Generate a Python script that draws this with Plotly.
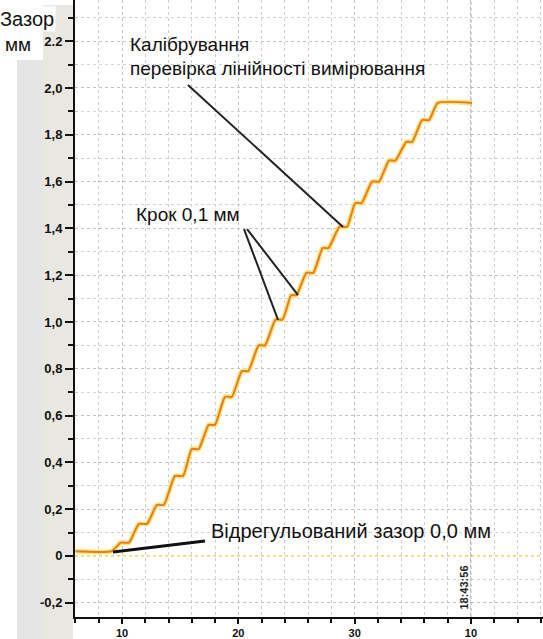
import plotly.graph_objects as go

# ---- data ----
# staircase: start/end x of each flat part and its level (mm)
flat_x0 = [6.0, 9.9, 11.45, 13.0, 14.55, 16.0, 17.45, 18.85, 20.3, 21.75, 23.2,
           24.55, 25.85, 27.25, 28.7, 30.05, 31.5, 32.95, 34.45, 35.8, 37.15]
flat_x1 = [9.1, 10.6, 12.15, 13.6, 15.25, 16.6, 18.0, 19.45, 20.85, 22.3, 23.8,
           25.0, 26.45, 27.75, 29.35, 30.6, 32.1, 33.5, 34.95, 36.4, 40.09]
levels = [0.02, 0.057, 0.137, 0.218, 0.342, 0.457, 0.56, 0.68, 0.79, 0.90, 1.01,
          1.115, 1.21, 1.316, 1.407, 1.508, 1.60, 1.69, 1.77, 1.863, 1.936]

x_tickvals = [10, 20, 30, 40]
x_ticktext = ["10", "20", "30", "10"]
y_tickvals = [-0.2, 0, 0.2, 0.4, 0.6, 0.8, 1.0, 1.2, 1.4, 1.6, 1.8, 2.0, 2.2]
y_ticktext = ["-0,2", "0", "0,2", "0,4", "0,6", "0,8", "1,0", "1,2", "1,4", "1,6", "1,8", "2,0", "2.2"]

# annotation pointer lines (data coords): x0, y0, x1, y1
ptr_calib = [15.67, 2.013, 29.0, 1.406]
ptr_step_a = [20.49, 1.397, 23.41, 1.009]
ptr_step_b = [20.75, 1.397, 25.13, 1.115]
ptr_zero = [9.23, 0.017, 17.13, 0.064]

x_range = [5.96, 46.19]
y_range = [-0.261, 2.376]

# ---- build staircase path ----
xs, ys = [], []
for a, b, lv in zip(flat_x0, flat_x1, levels):
    xs += [a, b]
    ys += [lv, lv]

fig = go.Figure()
fig.add_trace(go.Scatter(x=[x_range[0], x_range[1]], y=[0, 0], mode="lines",
                         line=dict(color="#efe070", width=1.5, dash="dot"),
                         hoverinfo="skip", showlegend=False))
fig.add_trace(go.Scatter(x=xs, y=ys, mode="lines",
                         line=dict(color="#ffe27a", width=5, shape="spline", smoothing=0.5),
                         hoverinfo="skip", showlegend=False))
fig.add_trace(go.Scatter(x=xs, y=ys, mode="lines",
                         line=dict(color="#df7f26", width=2, shape="spline", smoothing=0.5),
                         showlegend=False))

shapes = []
# left gray panel
shapes.append(dict(type="rect", xref="paper", yref="paper",
                   x0=(17 - 75) / 468, x1=(73 - 75) / 468, y0=-22 / 617, y1=1 - 60 / 617,
                   fillcolor="#e5e5e5", line=dict(width=0), layer="below"))
shapes.append(dict(type="rect", xref="paper", yref="paper",
                   x0=(43 - 75) / 468, x1=(73 - 75) / 468, y0=-22 / 617, y1=1 - 5 / 617,
                   fillcolor="#e8e8e0", line=dict(width=0), layer="below"))
# vertical dotted marker line at 40
shapes.append(dict(type="line", xref="x", yref="paper", x0=40, x1=40, y0=0, y1=1,
                   line=dict(color="#a8a8a8", width=1, dash="dot")))
for p in (ptr_calib, ptr_step_a, ptr_step_b):
    shapes.append(dict(type="line", xref="x", yref="y", x0=p[0], y0=p[1], x1=p[2], y1=p[3],
                       line=dict(color="#222222", width=2)))
shapes.append(dict(type="line", xref="x", yref="y", x0=ptr_zero[0], y0=ptr_zero[1],
                   x1=ptr_zero[2], y1=ptr_zero[3], line=dict(color="#111111", width=3)))

txt_font = dict(family="Liberation Sans, Arial, sans-serif", size=19, color="#111111")
ann = [
    dict(xref="paper", yref="paper", x=(128 - 75) / 468, y=1 - 45 / 617, text="Калібрування",
         xanchor="left", yanchor="middle", showarrow=False, font=txt_font),
    dict(xref="paper", yref="paper", x=(128 - 75) / 468, y=1 - 68 / 617,
         text="перевірка лінійності вимірювання",
         xanchor="left", yanchor="middle", showarrow=False, font=txt_font),
    dict(xref="paper", yref="paper", x=(134 - 75) / 468, y=1 - 215 / 617, text="Крок 0,1 мм",
         xanchor="left", yanchor="middle", showarrow=False, font=txt_font),
    dict(xref="paper", yref="paper", x=(209 - 75) / 468, y=1 - 531 / 617,
         text="Відрегульований зазор 0,0 мм",
         xanchor="left", yanchor="middle", showarrow=False, font=dict(txt_font, size=20)),
    dict(xref="paper", yref="paper", x=(-2 - 75) / 468, y=1 - 19 / 617, text="Зазор",
         xanchor="left", yanchor="middle", showarrow=False, bgcolor="white",
         font=dict(txt_font, size=20)),
    dict(xref="paper", yref="paper", x=(3 - 75) / 468, y=1 - 45 / 617, text="мм",
         xanchor="left", yanchor="middle", showarrow=False,
         font=dict(txt_font, size=19)),
    dict(xref="x", yref="y", x=39.4, y=-0.135, text="<b>18:43:56</b>", textangle=-90,
         showarrow=False, font=dict(family="Liberation Sans, Arial", size=11, color="#222222")),
]

fig.update_layout(
    width=543, height=639,
    margin=dict(l=75, r=0, t=0, b=22, autoexpand=False),
    paper_bgcolor="white", plot_bgcolor="white",
    shapes=shapes, annotations=ann,
    xaxis=dict(range=x_range, tickmode="array", tickvals=x_tickvals,
               ticktext=["<b>%s</b>" % t for t in x_ticktext], automargin=False,
               showline=True, linecolor="#111111", linewidth=2, ticks="outside",
               ticklen=5, tickwidth=2, tickcolor="#111111",
               showgrid=True, gridcolor="#c4c4c4", griddash="dot", gridwidth=1,
               zeroline=False,
               tickfont=dict(family="Liberation Sans, Arial", size=11, color="#111111"),
               minor=dict(tickmode="linear", tick0=0, dtick=2, ticks="outside", ticklen=4,
                          tickwidth=2, tickcolor="#111111", showgrid=True,
                          gridcolor="#cfcfcf", griddash="dot")),
    yaxis=dict(range=y_range, tickmode="array", tickvals=y_tickvals,
               ticktext=["<b>%s</b>" % t for t in y_ticktext], automargin=False,
               showline=True, linecolor="#111111", linewidth=2, ticks="outside",
               ticklen=8, tickwidth=2, tickcolor="#111111",
               showgrid=True, gridcolor="#c4c4c4", griddash="dot", gridwidth=1,
               zeroline=False,
               tickfont=dict(family="Liberation Sans, Arial", size=13, color="#111111"),
               minor=dict(tickmode="linear", tick0=0, dtick=0.1, ticks="outside", ticklen=5,
                          tickwidth=2, tickcolor="#111111", showgrid=True,
                          gridcolor="#d2d2d2", griddash="dot")),
)

fig.write_html("out.html", config={"displayModeBar": False},
               post_script="document.body.style.margin='0';document.body.style.overflow='hidden';")
